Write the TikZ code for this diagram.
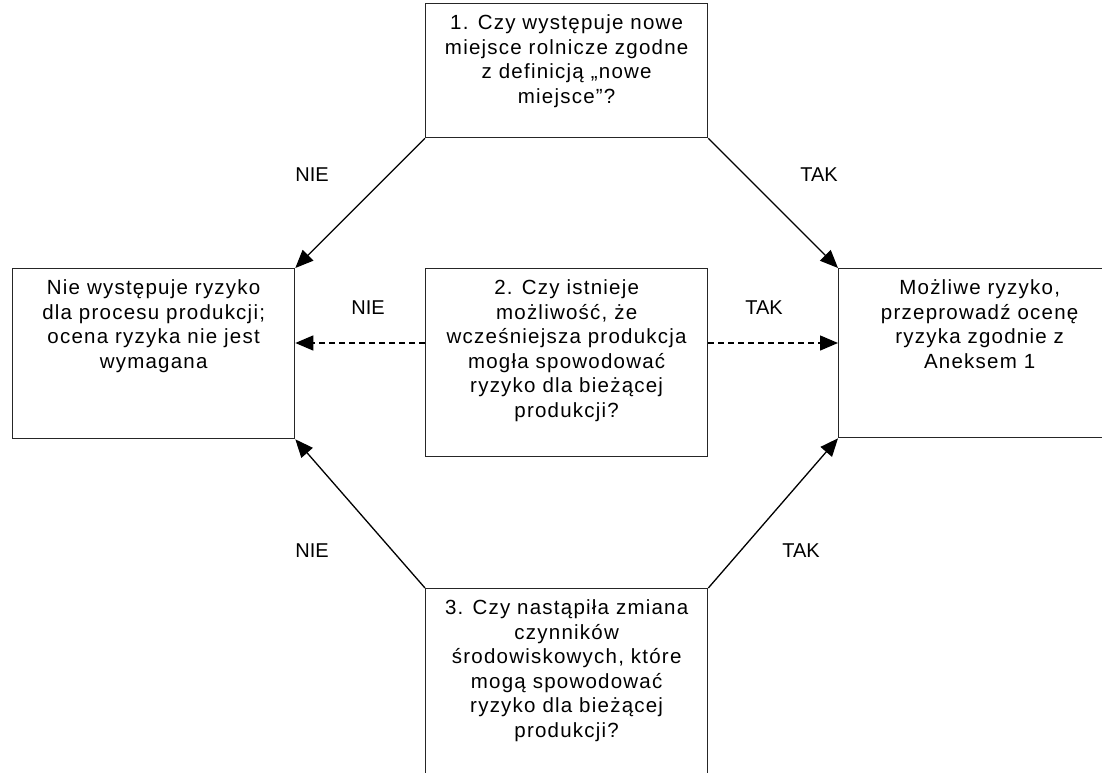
\documentclass[tikz,border=0pt]{standalone}
\usepackage{fontspec}
\setmainfont{Liberation Sans}
\newfontfamily\boxfont[LetterSpace=6]{Liberation Sans}
\usetikzlibrary{arrows.meta}
\tikzset{
  box/.style={draw=black!85, line width=1.3pt, inner sep=0pt, anchor=north west},
  arr/.style={draw=black, line width=1.3pt, -{Triangle[length=18pt,width=15pt]}},
  darr/.style={arr, dash pattern=on 6pt off 4pt},
  lbl/.style={font=\fontsize{20}{24}\selectfont, inner sep=0pt}
}
\newcommand{\boxtext}[3]{\parbox[t][#1][t]{#2}{\boxfont\fontsize{20.5}{24.5}\selectfont\centering\vspace*{8pt}\rule{0pt}{18pt}#3\par}}
\begin{document}
\begin{tikzpicture}[x=1pt,y=-1pt]
\useasboundingbox (0,0) rectangle (1102,773);
\clip (0,0) rectangle (1102,773);
\fill[white] (0,0) rectangle (1102,773);
\node[box] (top) at (425,3) {\boxtext{134pt}{282pt}{1. Czy występuje nowe\\miejsce rolnicze zgodne\\z definicją „nowe\\miejsce”?}};
\node[box] (left) at (12,268) {\boxtext{170pt}{282pt}{Nie występuje ryzyko\\dla procesu produkcji;\\ocena ryzyka nie jest\\wymagana}};
\node[box] (mid) at (425,268) {\boxtext{188pt}{282pt}{2. Czy istnieje\\możliwość, że\\wcześniejsza produkcja\\mogła spowodować\\ryzyko dla bieżącej\\produkcji?}};
\node[box] (right) at (838,268) {\boxtext{169pt}{282pt}{Możliwe ryzyko,\\przeprowadź ocenę\\ryzyka zgodnie z\\Aneksem 1}};
\node[box] (bot) at (425,588) {\boxtext{200pt}{282pt}{3. Czy nastąpiła zmiana\\czynników\\środowiskowych, które\\mogą spowodować\\ryzyko dla bieżącej\\produkcji?}};
\draw[arr] (top.south west) -- (left.north east);
\draw[arr] (top.south east) -- (right.north west);
\draw[arr] (bot.north west) -- (left.south east);
\draw[arr] (bot.north east) -- (right.south west);
\draw[darr] ([yshift=-75pt]mid.north west) -- ([yshift=-75pt]left.north east);
\draw[darr] ([yshift=-75pt]mid.north east) -- ([yshift=-75pt]right.north west);
\node[lbl] (n1) at (312,175) {NIE};
\node[lbl] (t1) at (819,175) {TAK};
\node[lbl] (n2) at (368,308) {NIE};
\node[lbl] (t2) at (764,308) {TAK};
\node[lbl] (n3) at (312,551) {NIE};
\node[lbl] (t3) at (801,551) {TAK};
\end{tikzpicture}
\end{document}
